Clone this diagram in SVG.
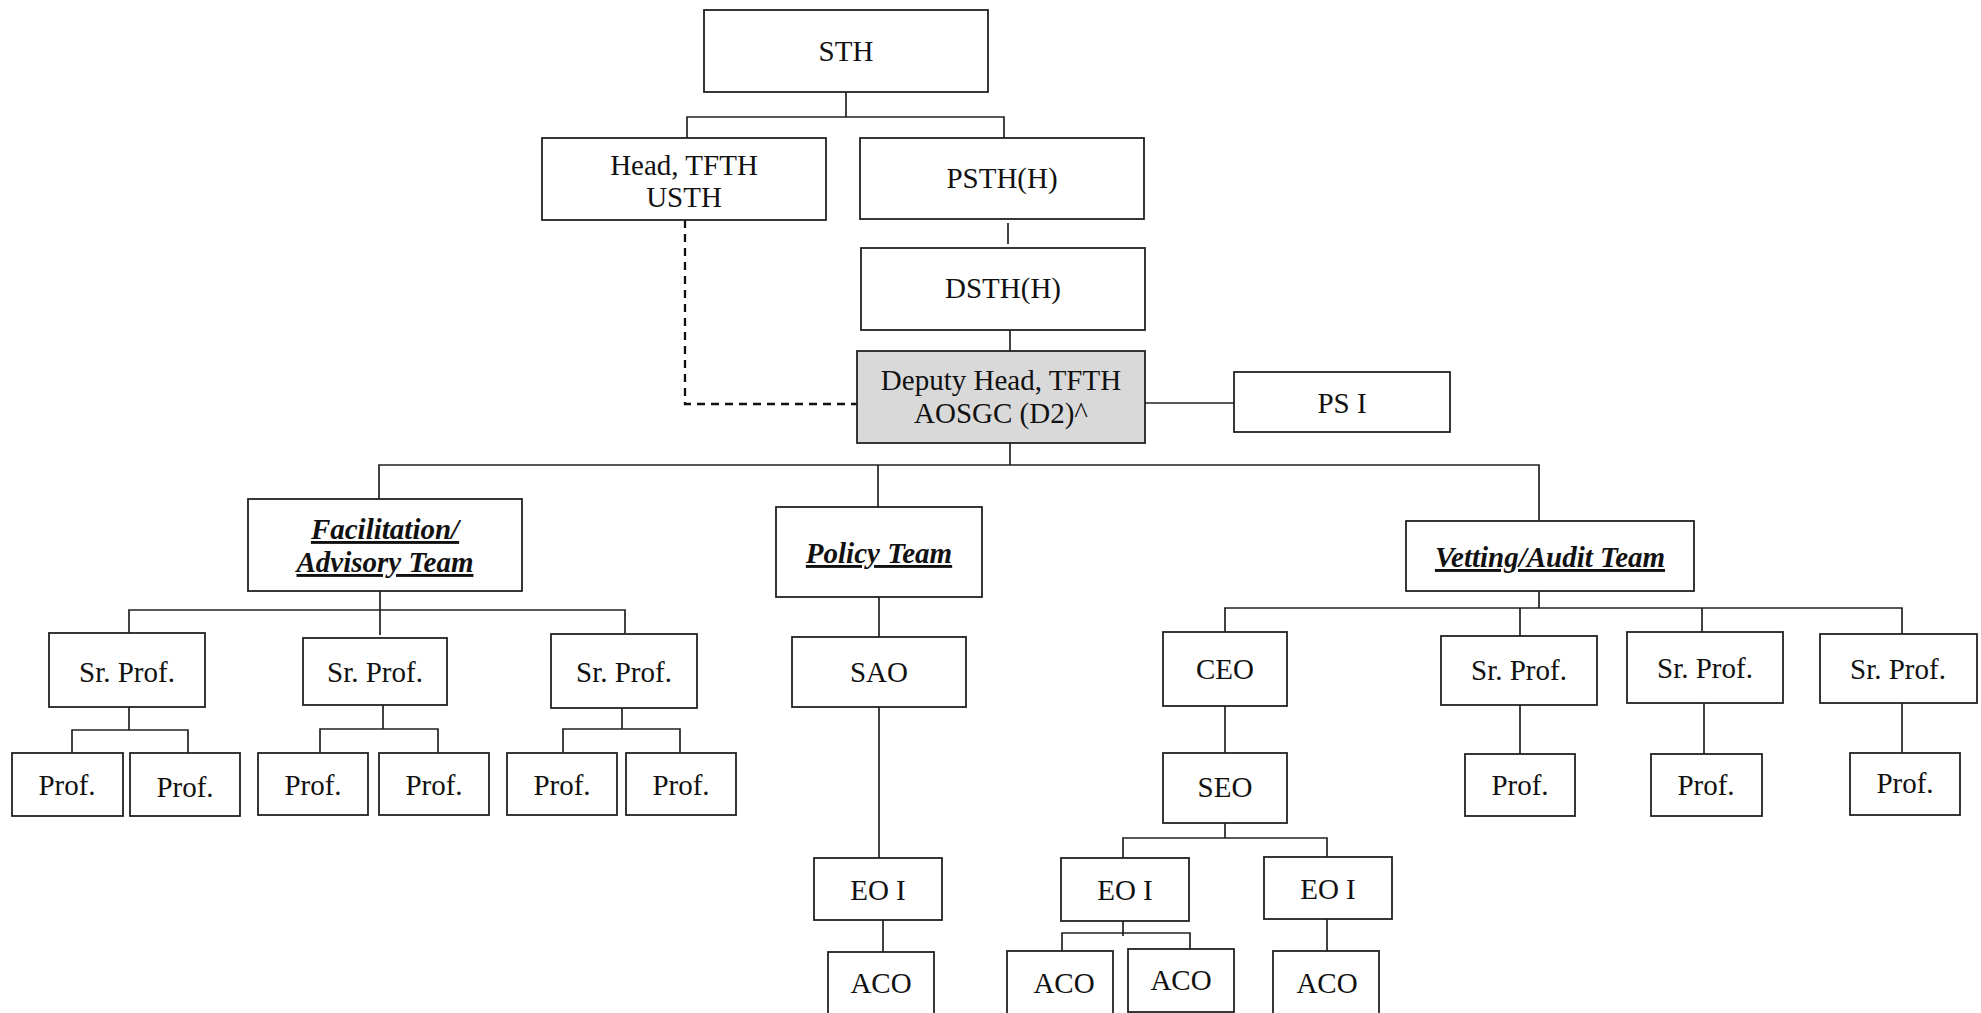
<svg xmlns="http://www.w3.org/2000/svg" width="1981" height="1013" viewBox="0 0 1981 1013">
<style>
rect{fill:#fff;stroke:#222;stroke-width:1.8}
rect.hl{fill:#d9d9d9}
text{font-family:"Liberation Serif","Times New Roman",serif;font-size:29px;fill:#111;text-anchor:middle}
text.team{font-weight:bold;font-style:italic;text-decoration:underline}
#connectors path{fill:none;stroke:#222;stroke-width:1.7}
#connectors path.dash{stroke-dasharray:8 6;stroke-width:2.3;stroke:#111}
</style>
<rect x="0" y="0" width="1981" height="1013" style="fill:#fff;stroke:none"/>
<g id="connectors">
<path d="M846 92V117M687 138V117H1004V138"/>
<path d="M1008 223V244"/>
<path d="M1010 330V351"/>
<path class="dash" d="M685 220V404H857"/>
<path d="M1145 403H1234"/>
<path d="M1010 443V465M379 499V465H1539V521M878 465V507"/>
<path d="M380 591V610M129 633V610H625V633M380 610V635"/>
<path d="M129 707V730M72 753V730H188V753"/>
<path d="M383 705V729M320 753V729H438V753"/>
<path d="M622 708V729M563 753V729H680V753"/>
<path d="M879 597V637M879 707V858M883 920V952"/>
<path d="M1539 591V608M1225 632V608H1902V634M1520 608V636M1702 608V632"/>
<path d="M1520 705V754M1704 703V754M1902 703V753"/>
<path d="M1225 706V753M1225 823V838M1123 858V838H1327V857"/>
<path d="M1123 919V936M1062 951V933H1190V949M1327 919V951"/>
</g>
<g id="sth"><rect x="704" y="10" width="284" height="82"/><text x="846" y="61">STH</text></g>
<g id="head"><rect x="542" y="138" width="284" height="82"/><text x="684" y="175">Head, TFTH</text><text x="684" y="207">USTH</text></g>
<g id="psth"><rect x="860" y="138" width="284" height="81"/><text x="1002" y="188">PSTH(H)</text></g>
<g id="dsth"><rect x="861" y="248" width="284" height="82"/><text x="1003" y="298">DSTH(H)</text></g>
<g id="deputy"><rect class="hl" x="857" y="351" width="288" height="92"/><text x="1001" y="390">Deputy Head, TFTH</text><text x="1001" y="423">AOSGC (D2)^</text></g>
<g id="psi"><rect x="1234" y="372" width="216" height="60"/><text x="1342" y="413">PS I</text></g>
<g id="fac"><rect x="248" y="499" width="274" height="92"/><text class="team" x="385" y="539">Facilitation/</text><text class="team" x="385" y="572">Advisory Team</text></g>
<g id="policy"><rect x="776" y="507" width="206" height="90"/><text class="team" x="879" y="563">Policy Team</text></g>
<g id="vetting"><rect x="1406" y="521" width="288" height="70"/><text class="team" x="1550" y="567">Vetting/Audit Team</text></g>
<g id="fsr1"><rect x="49" y="633" width="156" height="74"/><text x="127" y="682">Sr. Prof.</text></g>
<g id="fsr2"><rect x="303" y="638" width="144" height="67"/><text x="375" y="682">Sr. Prof.</text></g>
<g id="fsr3"><rect x="551" y="634" width="146" height="74"/><text x="624" y="682">Sr. Prof.</text></g>
<g id="fp1"><rect x="12" y="753" width="111" height="63"/><text x="67" y="795">Prof.</text></g>
<g id="fp2"><rect x="130" y="753" width="110" height="63"/><text x="185" y="797">Prof.</text></g>
<g id="fp3"><rect x="258" y="753" width="110" height="62"/><text x="313" y="795">Prof.</text></g>
<g id="fp4"><rect x="379" y="753" width="110" height="62"/><text x="434" y="795">Prof.</text></g>
<g id="fp5"><rect x="507" y="753" width="110" height="62"/><text x="562" y="795">Prof.</text></g>
<g id="fp6"><rect x="626" y="753" width="110" height="62"/><text x="681" y="795">Prof.</text></g>
<g id="sao"><rect x="792" y="637" width="174" height="70"/><text x="879" y="682">SAO</text></g>
<g id="peo"><rect x="814" y="858" width="128" height="62"/><text x="878" y="900">EO I</text></g>
<g id="paco"><rect x="828" y="952" width="106" height="64"/><text x="881" y="993">ACO</text></g>
<g id="ceo"><rect x="1163" y="632" width="124" height="74"/><text x="1225" y="679">CEO</text></g>
<g id="seo"><rect x="1163" y="753" width="124" height="70"/><text x="1225" y="797">SEO</text></g>
<g id="veo1"><rect x="1061" y="858" width="128" height="63"/><text x="1125" y="900">EO I</text></g>
<g id="veo2"><rect x="1264" y="857" width="128" height="62"/><text x="1328" y="899">EO I</text></g>
<g id="vaco1"><rect x="1007" y="951" width="106" height="65"/><text x="1064" y="993">ACO</text></g>
<g id="vaco2"><rect x="1128" y="949" width="106" height="63"/><text x="1181" y="990">ACO</text></g>
<g id="vaco3"><rect x="1273" y="951" width="106" height="65"/><text x="1327" y="993">ACO</text></g>
<g id="vsr1"><rect x="1441" y="636" width="156" height="69"/><text x="1519" y="680">Sr. Prof.</text></g>
<g id="vsr2"><rect x="1627" y="632" width="156" height="71"/><text x="1705" y="678">Sr. Prof.</text></g>
<g id="vsr3"><rect x="1820" y="634" width="157" height="69"/><text x="1898" y="679">Sr. Prof.</text></g>
<g id="vp1"><rect x="1465" y="754" width="110" height="62"/><text x="1520" y="795">Prof.</text></g>
<g id="vp2"><rect x="1651" y="754" width="111" height="62"/><text x="1706" y="795">Prof.</text></g>
<g id="vp3"><rect x="1850" y="753" width="110" height="62"/><text x="1905" y="793">Prof.</text></g>
</svg>
